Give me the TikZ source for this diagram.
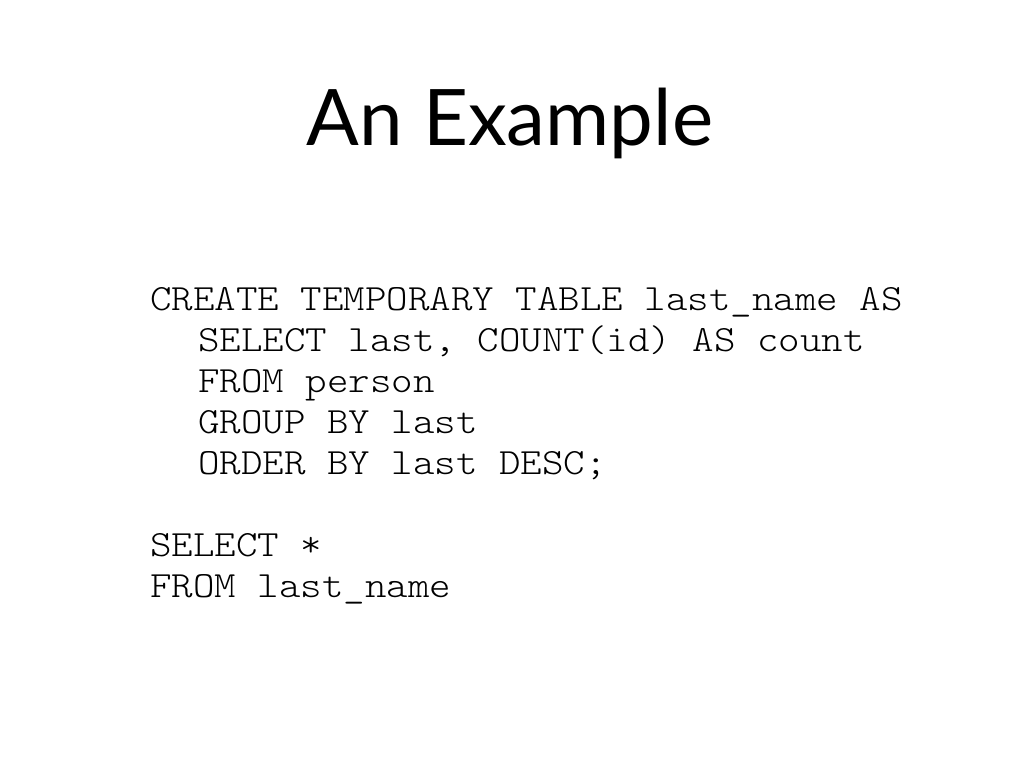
\documentclass[tikz,border=0pt]{standalone}
\usepackage{fontspec}
\setmainfont{Lato}
\newfontfamily\codefont{lmmonolt10-regular}[Extension=.otf,FakeStretch=1.107]
\begin{document}
\begin{tikzpicture}[x=1pt,y=-1pt,
  title/.style={anchor=base,inner sep=0pt,font=\fontsize{78}{90}\selectfont},
  code/.style={anchor=base west,inner sep=0pt,font=\codefont\fontsize{37}{41}\selectfont}]
\useasboundingbox[fill=white] (0,0) rectangle (1024,768);
\node[title] (t) at (510,145) {An Example};
\node[code] (l1) at (150,310) {CREATE TEMPORARY TABLE last\_name AS};
\node[code] (l2) at (198,351) {SELECT last, COUNT(id) AS count};
\node[code] (l3) at (198,392) {FROM person};
\node[code] (l4) at (198,433) {GROUP BY last};
\node[code] (l5) at (198,474) {ORDER BY last DESC;};
\node[code] (l6) at (150,556) {SELECT *};
\node[code] (l7) at (150,597) {FROM last\_name};
\end{tikzpicture}
\end{document}
